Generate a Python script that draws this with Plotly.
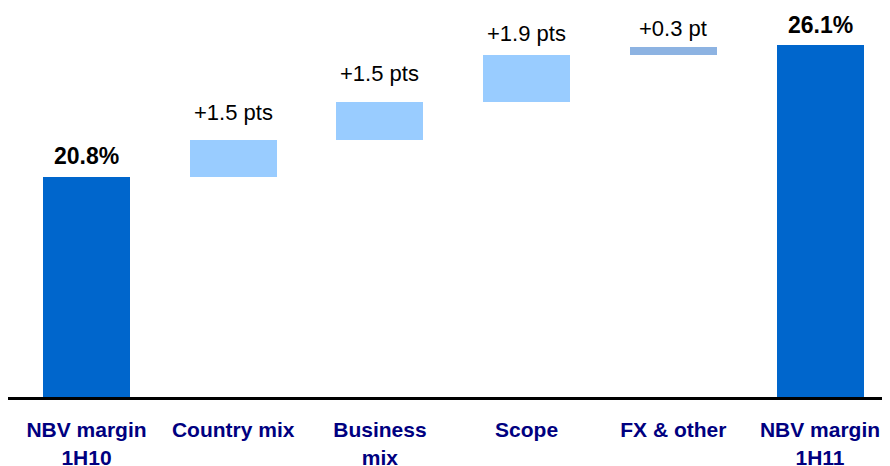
import plotly.graph_objects as go

categories = ["NBV margin<br>1H10", "Country mix", "Business<br>mix", "Scope", "FX & other", "NBV margin<br>1H11"]
values = [20.8, 1.5, 1.5, 1.9, 0.3, 26.1]
kinds = ["total", "delta", "delta", "delta", "delta", "total"]
value_labels = ["20.8%", "+1.5 pts", "+1.5 pts", "+1.9 pts", "+0.3 pt", "26.1%"]

bar_colors = ["#0066CC", "#99CCFF", "#99CCFF", "#99CCFF", "#8DB3E2", "#0066CC"]
label_shift_px = [6, 13, 14, 7, 4, 5]

Y_MIN = 12.0

bases, heights = [], []
running = 0.0
for v, k in zip(values, kinds):
    if k == "total":
        bases.append(Y_MIN)
        heights.append(v - Y_MIN)
        running = v
    else:
        bases.append(running)
        heights.append(v)
        running += v

xs = list(range(len(categories)))

fig = go.Figure()
fig.add_trace(go.Bar(
    x=xs, y=heights, base=bases,
    marker=dict(color=bar_colors, line=dict(width=0)),
    width=0.593, hoverinfo="skip",
))

for i, (b, h, lab, k) in enumerate(zip(bases, heights, value_labels, kinds)):
    bold = k == "total"
    fig.add_annotation(
        x=i, y=b + h, text=f"<b>{lab}</b>" if bold else lab,
        showarrow=False, yanchor="bottom", yshift=label_shift_px[i],
        font=dict(family="Liberation Sans, Arial, sans-serif", size=23 if bold else 22, color="#000000"),
    )

fig.update_layout(
    width=882, height=458,
    margin=dict(l=0, r=0, t=2, b=69, autoexpand=False),
    paper_bgcolor="white", plot_bgcolor="white",
    showlegend=False,
    bargap=0,
    xaxis=dict(
        range=[-0.535, 5.477], tickmode="array", tickvals=xs,
        ticktext=[f"<b>{c}</b>" for c in categories],
        showgrid=False, zeroline=False, showline=True, linecolor="#000000", linewidth=3,
        ticks="", ticklabelstandoff=12, automargin=False,
        tickfont=dict(family="Liberation Sans, Arial, sans-serif", size=21, color="#000080"),
    ),
    yaxis=dict(range=[Y_MIN, Y_MIN + 387 / 25.0], visible=False, showgrid=False,
               zeroline=False, automargin=False),
)

fig.write_html("out.html")
